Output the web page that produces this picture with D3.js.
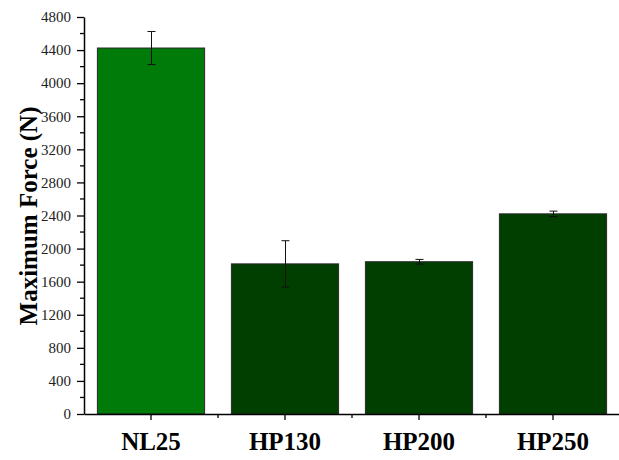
<!DOCTYPE html>
<html><head><meta charset="utf-8">
<script src="https://cdn.jsdelivr.net/npm/d3@7"></script>
<style>body{margin:0;background:#fff}svg{display:block}
svg text{font-family:"Liberation Serif","Times New Roman",Times,serif}</style>
</head><body>
<svg id="c" width="619" height="460"></svg>
<script>
const categories = ["NL25", "HP130", "HP200", "HP250"];
const values = [4425, 1815, 1841, 2420];
const errors = [200, 280, 28, 33];
const barColors = ["#007a08", "#003f00", "#003f00", "#003f00"];
const yTicks = [0, 400, 800, 1200, 1600, 2000, 2400, 2800, 3200, 3600, 4000, 4400, 4800];
const yLabel = "Maximum Force (N)";

(function () {
const svg = d3.select("#c");
const mLeft = 84, mRight = 620, mTop = 17, mBottom = 414;
const x = d3.scaleBand().domain(categories).range([mLeft, mRight]).paddingInner(0.2).paddingOuter(0.1);
const y = d3.scaleLinear().domain([0, 4800]).range([mBottom, mTop]);

svg.selectAll("rect.bar").data(categories).enter().append("rect")
  .attr("x", d => x(d)).attr("width", x.bandwidth())
  .attr("y", (d, i) => y(values[i])).attr("height", (d, i) => y(0) - y(values[i]))
  .attr("fill", (d, i) => barColors[i]).attr("stroke", "#2a2a2a").attr("stroke-width", 1);

const eg = svg.append("g").attr("stroke", "#111").attr("stroke-width", 1);
categories.forEach((c, i) => {
  const cx = Math.round(x(c) + x.bandwidth() / 2) + 0.5;
  eg.append("line").attr("x1", cx).attr("x2", cx).attr("y1", y(values[i] + errors[i])).attr("y2", y(values[i] - errors[i]));
  eg.append("line").attr("x1", cx - 4).attr("x2", cx + 4).attr("y1", y(values[i] + errors[i])).attr("y2", y(values[i] + errors[i]));
  eg.append("line").attr("x1", cx - 4).attr("x2", cx + 4).attr("y1", y(values[i] - errors[i])).attr("y2", y(values[i] - errors[i]));
});

const yAxis = svg.append("g").attr("transform", `translate(${mLeft},0)`)
  .call(d3.axisLeft(y).tickValues(yTicks).tickSize(7).tickSizeOuter(0).tickPadding(6).tickFormat(d3.format("d")));
yAxis.attr("font-family", null);
yAxis.selectAll("text").attr("font-size", 15).attr("fill", "#222");
yAxis.select(".domain").attr("stroke", "#000").attr("stroke-width", 1.5);
yAxis.selectAll(".tick line").attr("stroke", "#000").attr("stroke-width", 1.3);
const minor = d3.range(200, 4800, 400);
svg.append("g").selectAll("line").data(minor).enter().append("line")
  .attr("x1", mLeft - 4).attr("x2", mLeft).attr("y1", d => y(d)).attr("y2", d => y(d))
  .attr("stroke", "#000").attr("stroke-width", 1.3);

const xAxis = svg.append("g").attr("transform", `translate(0,${mBottom})`)
  .call(d3.axisBottom(x).tickSize(6).tickSizeOuter(0).tickPadding(12));
xAxis.attr("font-family", null);
xAxis.selectAll("text").attr("font-size", 25).attr("font-weight", "bold").attr("fill", "#000");
xAxis.select(".domain").attr("stroke", "#000").attr("stroke-width", 1.5);
xAxis.selectAll(".tick line").attr("stroke", "#000").attr("stroke-width", 1.3);
const step = x.step();
const bounds = categories.slice(0, categories.length - 1).map(c => x(c) + x.bandwidth() + (step - x.bandwidth()) / 2);
svg.append("g").selectAll("line").data(bounds).enter().append("line")
  .attr("x1", d => d).attr("x2", d => d).attr("y1", mBottom).attr("y2", mBottom + 4)
  .attr("stroke", "#000").attr("stroke-width", 1.3);

svg.append("text").attr("transform", `translate(37,216) rotate(-90)`)
  .attr("text-anchor", "middle")
  .attr("font-size", 25).attr("font-weight", "bold").text(yLabel);
})();
</script>
</body></html>
